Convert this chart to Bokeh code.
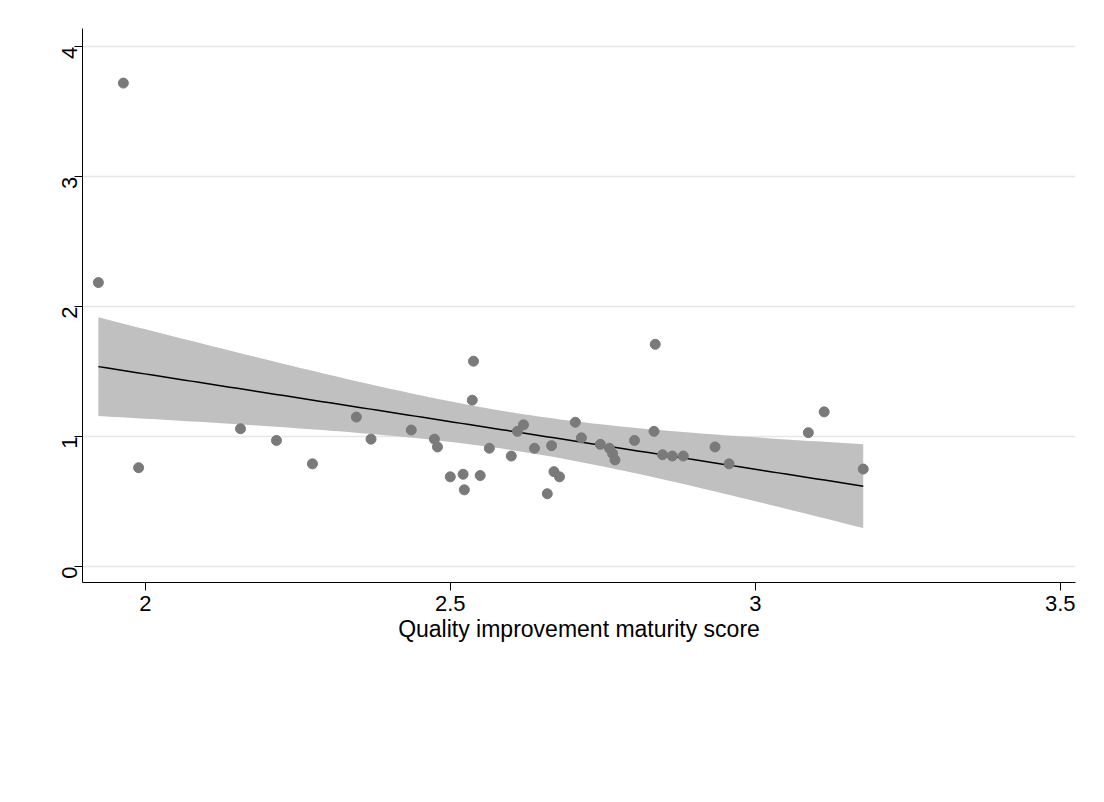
import math
import numpy as np
from bokeh.plotting import figure
from bokeh.models import Legend, LegendItem, Range1d
from bokeh.embed import file_html
from bokeh.resources import INLINE

qi_score = [1.923, 1.964, 1.989, 2.156, 2.215, 2.274, 2.346, 2.370, 2.436, 2.474, 2.479, 2.500,
            2.521, 2.523, 2.536, 2.538, 2.549, 2.564, 2.600, 2.610, 2.620, 2.638, 2.659, 2.666,
            2.670, 2.679, 2.705, 2.715, 2.746, 2.761, 2.766, 2.770, 2.802, 2.834, 2.836, 2.848,
            2.864, 2.882, 2.934, 2.957, 3.087, 3.113, 3.177]
mortality = [2.185, 3.72, 0.76, 1.06, 0.97, 0.79, 1.15, 0.98, 1.05, 0.98, 0.92, 0.69,
             0.71, 0.59, 1.28, 1.58, 0.70, 0.91, 0.85, 1.04, 1.09, 0.91, 0.56, 0.93,
             0.73, 0.69, 1.11, 0.99, 0.94, 0.91, 0.87, 0.82, 0.97, 1.04, 1.71, 0.86,
             0.85, 0.85, 0.92, 0.79, 1.03, 1.19, 0.75]
x_ticks = [2, 2.5, 3, 3.5]
y_ticks = [0, 1, 2, 3, 4]

x = np.array(qi_score); y = np.array(mortality)
n = len(x)
b, a = np.polyfit(x, y, 1)
resid = y - (a + b * x)
s = math.sqrt((resid ** 2).sum() / (n - 2))
xg = np.linspace(x.min(), x.max(), 100)
fit = a + b * xg
se = s * np.sqrt(1 / n + (xg - x.mean()) ** 2 / ((x - x.mean()) ** 2).sum())
t = 2.02
lo, hi = fit - t * se, fit + t * se

p = figure(width=1088, height=786, frame_width=993, frame_height=554,
           output_backend="svg", toolbar_location=None,
           x_range=Range1d(1.897, 3.525), y_range=Range1d(-0.123, 4.14),
           min_border_left=82, min_border_right=13, min_border_top=28,
           min_border_bottom=204,
           background_fill_color="white", border_fill_color="white")
p.outline_line_color = None
p.xgrid.grid_line_color = None
p.ygrid.grid_line_color = "#e6e6e6"
p.ygrid.grid_line_width = 1.5
p.xaxis.ticker = x_ticks
p.yaxis.ticker = y_ticks
for ax in (p.xaxis, p.yaxis):
    ax.axis_line_color = "black"
    ax.major_tick_line_color = "black"
    ax.minor_tick_line_color = None
    ax.major_tick_out = 8
    ax.major_tick_in = 0
    ax.major_label_text_font = "Liberation Sans"
    ax.major_label_text_font_size = "22px"
    ax.major_label_text_color = "black"
p.yaxis.major_label_orientation = math.pi / 2
p.xaxis.axis_label = "Quality improvement maturity score"
p.xaxis.axis_label_text_font = "Liberation Sans"
p.xaxis.axis_label_text_font_size = "23px"
p.xaxis.axis_label_text_font_style = "normal"
p.xaxis.axis_label_text_color = "black"
p.xaxis.axis_label_standoff = 2

band = p.varea(x=xg, y1=lo, y2=hi, fill_color="#c0c0c0")
line = p.line(xg, fit, line_color="black", line_width=1.5)
pts = p.scatter(qi_score, mortality, size=10, fill_color="#7a7a7a", line_color="#7a7a7a")

legend = Legend(items=[LegendItem(label="95% CI", renderers=[band]),
                       LegendItem(label="Hospital adjusted mortality", renderers=[pts]),
                       LegendItem(label="Fitted values", renderers=[line])],
                ncols=2, location=(92, -180), label_text_font="Liberation Sans",
                label_text_font_size="23px", border_line_color="black",
                border_line_width=1.5, glyph_width=105, glyph_height=30,
                spacing=8, padding=10, margin=0, label_standoff=16,
                label_width=370, background_fill_alpha=1)
p.add_layout(legend, "center")

open("out.html", "w").write(file_html(p, INLINE))
